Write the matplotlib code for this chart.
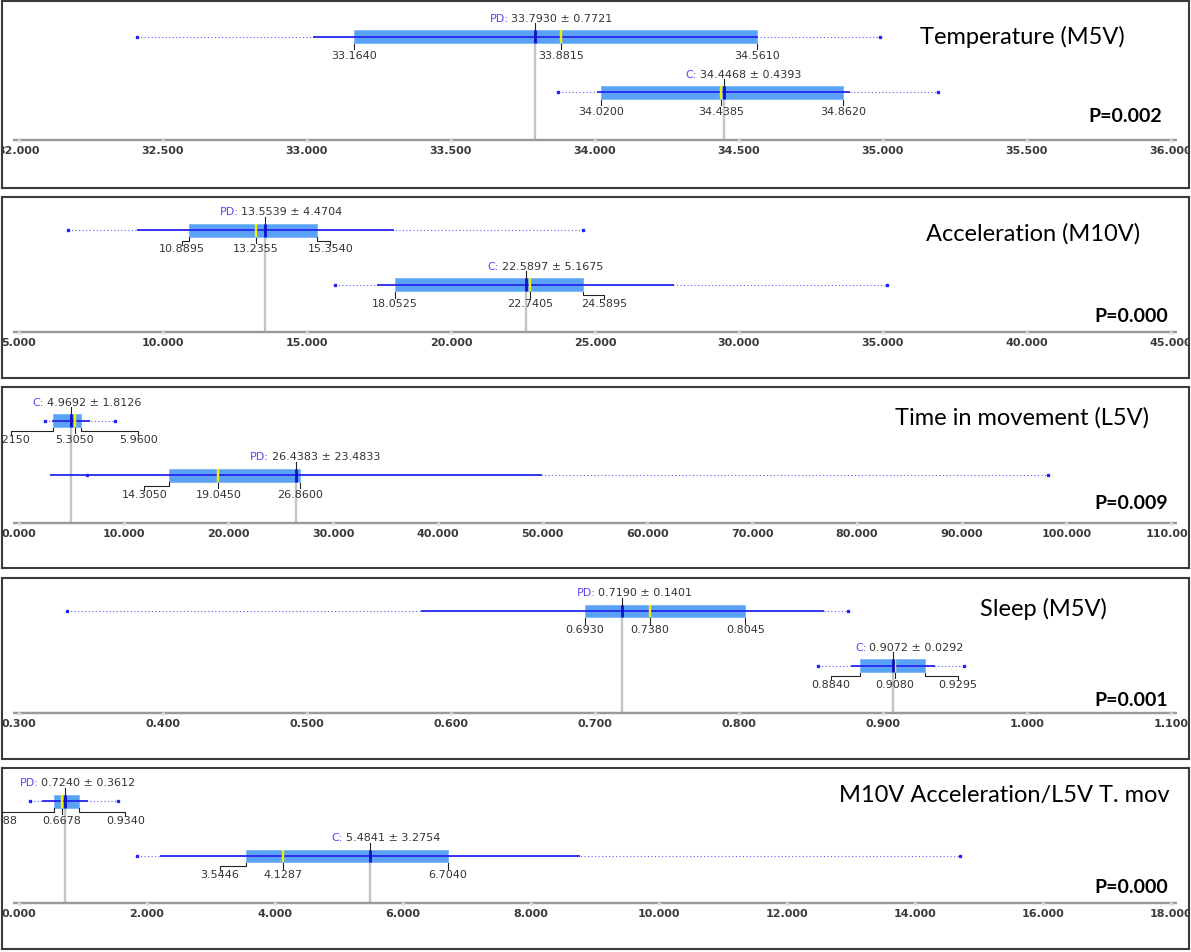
import numpy as np
import matplotlib
matplotlib.use("Agg")
import matplotlib.pyplot as plt
from matplotlib.patches import Rectangle

# ---------------- data ----------------
titles = ["Temperature (M5V)", "Acceleration (M10V)", "Time in movement (L5V)",
          "Sleep (M5V)", "M10V Acceleration/L5V T. mov"]
p_values = ["P=0.002", "P=0.000", "P=0.009", "P=0.001", "P=0.000"]
axis_lo = [32.0, 5.0, 0.0, 0.3, 0.0]
axis_hi = [36.0, 45.0, 110.0, 1.1, 18.0]
axis_step = [0.5, 5.0, 10.0, 0.1, 2.0]

# groups per panel, top row first
group_names = [["PD", "C"], ["PD", "C"], ["C", "PD"], ["PD", "C"], ["PD", "C"]]
means = [[33.7930, 34.4468], [13.5539, 22.5897], [4.9692, 26.4383], [0.7190, 0.9072], [0.7240, 5.4841]]
sds = [[0.7721, 0.4393], [4.4704, 5.1675], [1.8126, 23.4833], [0.1401, 0.0292], [0.3612, 3.2754]]
q1s = [[33.1640, 34.0200], [10.8895, 18.0525], [3.2150, 14.3050], [0.6930, 0.8840], [0.5488, 3.5446]]
medians = [[33.8815, 34.4385], [13.2355, 22.7405], [5.3050, 19.0450], [0.7380, 0.9080], [0.6678, 4.1287]]
q3s = [[34.5610, 34.8620], [15.3540, 24.5895], [5.9600, 26.8600], [0.8045, 0.9295], [0.9340, 6.7040]]
mins = [[32.41, 33.87], [6.69, 15.97], [2.46, 6.46], [0.333, 0.855], [0.17, 1.84]]
maxs = [[34.99, 35.19], [24.58, 35.14], [9.17, 98.3], [0.876, 0.956], [1.55, 14.70]]

# ---------------- layout (pixels) ----------------
W, H, DPI = 1191, 952, 100
FX0, FX1 = 2, 1189          # frame left/right
AX0, AX1 = 19, 1171         # axis range start/end
frames = [(1, 188.3), (196.7, 378.3), (386.7, 567.5), (577.7, 759.3), (767.7, 949)]
box_cy = [[35.7, 91.3], [33.5, 88.0], [33.8, 88.5], [33.3, 87.8], [33.6, 88.2]]
axis_y = [139.5, 135.6, 136.6, 135.6, 135.6]
title_pos = [(1022, 36), (1033, 37.6), (1022, 31.6), (1043, 31.6), (1004, 28)]
p_pos = [(1162, 116), (1168, 120), (1168, 116.6), (1168, 123.3), (1168, 120)]
HH = 6.3

PX = 0.72  # points per pixel at 100 dpi

BOX_FC = "#5aa2f6"
LINE_C = "#2626ee"
DOT_C = "#5a5aff"
MEAN_C = "#1010cc"
MED_C = "#f0f000"
GRAY_C = "#c4c4c4"
TXT_C = "#333333"
PREF_C = "#5b45f5"

fig = plt.figure(figsize=(W / DPI, H / DPI), dpi=DPI)
fig.patch.set_facecolor("white")


def fmt4(v):
    return f"{v:.4f}"


for i in range(5):
    top, bot = frames[i]
    ph = bot - top
    ax = fig.add_axes([FX0 / W, 1 - bot / H, (FX1 - FX0) / W, ph / H])
    lo, hi = axis_lo[i], axis_hi[i]
    ppx = (hi - lo) / (AX1 - AX0)
    ax.set_xlim(lo - (AX0 - FX0) * ppx, lo + (FX1 - AX0) * ppx)
    ax.set_ylim(ph, 0)
    ax.set_xticks([])
    ax.set_yticks([])
    for s in ax.spines.values():
        s.set_color("#3a3a3a")
        s.set_linewidth(1.5)

    ay = axis_y[i]
    # axis line
    ax.plot([lo - 6 * ppx, hi + 6 * ppx], [ay, ay], color="#9a9a9a",
            lw=2.4 * PX, solid_capstyle="butt", zorder=2)
    ticks = np.arange(lo, hi + axis_step[i] / 2, axis_step[i])
    for t in ticks:
        ax.plot([t, t], [ay - 1.6, ay + 1.6], color="#dedede", lw=3.2 * PX,
                solid_capstyle="butt", zorder=2.5)
        ax.text(t, ay + 11, f"{t:.3f}", ha="center", va="center", fontsize=8,
                fontweight="bold", color="#3a3a3a", clip_on=True, zorder=8)

    for j in range(2):
        cy = box_cy[i][j]
        m, sd = means[i][j], sds[i][j]
        q1, med, q3 = q1s[i][j], medians[i][j], q3s[i][j]
        mn, mx = mins[i][j], maxs[i][j]
        by = cy + HH
        bt = cy - HH

        # gray mean guide line down to axis
        ax.plot([m, m], [by + 1, ay], color=GRAY_C, lw=2.4 * PX, zorder=1,
                solid_capstyle="butt")
        # dotted min-max line
        ax.plot([mn, mx], [cy, cy], color=DOT_C, lw=1.1 * PX, ls=(0, (1, 2.2)), zorder=2)
        ax.plot([mn, mx], [cy, cy], ls="none", marker="s", ms=2.6 * PX,
                color="#2020ff", mec="#2020ff", zorder=2.2)
        # box
        ax.add_patch(Rectangle((q1, bt), q3 - q1, 2 * HH, fc=BOX_FC, ec="#7ab6fa",
                               lw=0.6, zorder=3))
        # mean +- sd line
        ax.plot([m - sd, m + sd], [cy, cy], color=LINE_C, lw=1.8 * PX, zorder=4,
                solid_capstyle="butt")
        # median
        ax.plot([med, med], [bt, by], color=MED_C, lw=2.4 * PX, zorder=5,
                solid_capstyle="butt")
        # mean
        ax.plot([m, m], [bt, by], color=MEAN_C, lw=2.8 * PX, zorder=6,
                solid_capstyle="butt")
        # tick above mean + label
        ax.plot([m, m], [bt - 7, bt], color="#222222", lw=1.1 * PX, zorder=6)
        ly = bt - 11.5
        ax.text(m - 27 * ppx, ly, group_names[i][j] + ":", ha="right", va="center",
                fontsize=8, color=PREF_C, zorder=8, clip_on=True)
        ax.text(m - 24 * ppx, ly, f"{fmt4(m)} \u00b1 {fmt4(sd)}", ha="left", va="center",
                fontsize=8, color=TXT_C, zorder=8, clip_on=True)

        # quartile / median labels with overlap avoidance
        s1, sm, s3 = fmt4(q1), fmt4(med), fmt4(q3)
        sp1 = 10.6 * max(len(s1), len(sm)) * ppx
        sp3 = 10.6 * max(len(s3), len(sm)) * ppx
        lx1 = q1 if (med - q1) >= sp1 else med - sp1
        lx3 = q3 if (q3 - med) >= sp3 else med + sp3
        for v, lx, s in [(q1, lx1, s1), (med, med, sm), (q3, lx3, s3)]:
            if lx == v:
                ax.plot([v, v], [by + 1, by + 6.5], color="#222222", lw=1.1 * PX, zorder=6)
            else:
                ax.plot([v, v, lx, lx], [by + 0.8, by + 4, by + 4, by + 8],
                        color="#222222", lw=1.1 * PX, zorder=6)
            ax.text(lx, by + 13, s, ha="center", va="center", fontsize=8,
                    color=TXT_C, zorder=8, clip_on=True)

    # title & p-value (positions are relative to the panel top, in pixels)
    tx, ty = title_pos[i]
    ax.text(lo + (tx - AX0) * ppx, ty, titles[i], ha="center", va="center",
            fontsize=17, family="Lato", color="black", zorder=9)
    px_, py_ = p_pos[i]
    ax.text(lo + (px_ - AX0) * ppx, py_, p_values[i], ha="right", va="center",
            fontsize=14, family="Lato", fontweight="bold", color="black", zorder=9)

fig.savefig("out.png", dpi=DPI, facecolor="white")
